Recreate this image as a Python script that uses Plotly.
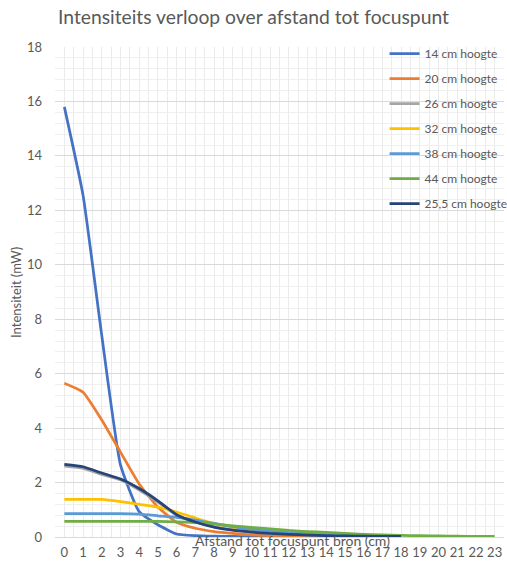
import plotly.graph_objects as go

# Distance to focal point (cm), one category per centimetre
afstand = list(range(24))
tick_labels = [str(v) for v in afstand]

# Measured intensity (mW) per source height
namen = ["14 cm hoogte", "20 cm hoogte", "26 cm hoogte", "32 cm hoogte",
         "38 cm hoogte", "44 cm hoogte", "25,5 cm hoogte"]
h14 = [15.8, 12.55, 7.4, 2.65, 0.93, 0.45, 0.11, 0.05, 0.03, 0.02, 0.01, 0.01, 0.0]
h20 = [5.65, 5.32, 4.3, 3.12, 1.95, 1.1, 0.54, 0.32, 0.2, 0.13, 0.08, 0.05, 0.03,
       0.02, 0.01, 0.01]
h26 = [2.6, 2.52, 2.3, 2.1, 1.72, 1.28, 0.8, 0.55, 0.37, 0.26, 0.18, 0.13, 0.1,
       0.07, 0.05, 0.04, 0.03, 0.02, 0.02]
h32 = [1.38, 1.38, 1.38, 1.3, 1.2, 1.1, 0.92, 0.7, 0.5, 0.36, 0.26, 0.2, 0.15,
       0.11, 0.08, 0.06, 0.05, 0.04, 0.03]
h38 = [0.86, 0.86, 0.86, 0.86, 0.84, 0.78, 0.72, 0.62, 0.5, 0.38, 0.28, 0.21, 0.16,
       0.12, 0.09, 0.07, 0.05, 0.04, 0.03]
h44 = [0.57, 0.57, 0.57, 0.57, 0.57, 0.57, 0.56, 0.53, 0.48, 0.41, 0.35, 0.3, 0.24,
       0.2, 0.17, 0.13, 0.1, 0.08, 0.06, 0.05, 0.04, 0.03, 0.02, 0.02]
h255 = [2.67, 2.58, 2.35, 2.13, 1.78, 1.33, 0.82, 0.55, 0.36, 0.25, 0.18, 0.13, 0.1,
        0.07, 0.05, 0.04, 0.03, 0.02, 0.02]
reeksen = [h14, h20, h26, h32, h38, h44, h255]
kleuren = ["#4472C4", "#ED7D31", "#A5A5A5", "#FFC000", "#5B9BD5", "#70AD47", "#264478"]

FONT = "Lato"
GREY = "#595959"

fig = go.Figure()
for naam, waarden, kleur in zip(namen, reeksen, kleuren):
    fig.add_trace(go.Scatter(
        x=afstand[:len(waarden)], y=waarden, name=naam, mode="lines",
        legendgroup=naam,
        line=dict(color=kleur, width=2.75, shape="spline", smoothing=0.45),
        hoverinfo="skip",
    ))

fig.update_layout(
    width=507, height=563,
    margin=dict(l=55, r=3, t=47, b=26, autoexpand=False),
    paper_bgcolor="white", plot_bgcolor="white",
    font=dict(family=FONT, color=GREY, size=12),
    title=dict(text="Intensiteits verloop over afstand tot focuspunt",
               x=0.5, xanchor="center", y=1 - 17 / 563, yanchor="middle",
               font=dict(family=FONT, size=19.3, color=GREY)),
    showlegend=True,
    legend=dict(x=0.734, y=1.016, xanchor="left", yanchor="top",
                bgcolor="rgba(0,0,0,0)", traceorder="grouped",
                tracegroupgap=6, itemwidth=30,
                font=dict(family=FONT, size=12, color=GREY)),
)

fig.update_xaxes(
    range=[-0.5, 23.5], tickmode="array", tickvals=afstand, ticktext=tick_labels,
    showgrid=True, gridcolor="#ebebeb", gridwidth=1,
    minor=dict(tick0=0.5, dtick=1, showgrid=True, gridcolor="#ebebeb", gridwidth=1),
    zeroline=False, showline=False, ticks="", ticklabelstandoff=6,
    tickfont=dict(family=FONT, size=13, color=GREY),
    fixedrange=True,
)
fig.update_yaxes(
    range=[0, 18], dtick=2, tick0=0,
    showgrid=True, gridcolor="#d9d9d9", gridwidth=1,
    minor=dict(dtick=0.4, tick0=0, showgrid=True, gridcolor="#efefef", gridwidth=1),
    zeroline=True, zerolinecolor="#d9d9d9", zerolinewidth=1,
    showline=False, ticks="", ticklabelstandoff=12,
    tickfont=dict(family=FONT, size=13, color=GREY),
    fixedrange=True,
)

# Axis titles
fig.add_annotation(text="Afstand tot focuspunt bron (cm)", xref="paper", yref="paper",
                   x=0.53, y=-0.008, xanchor="center", yanchor="middle",
                   showarrow=False, font=dict(family=FONT, size=14, color=GREY))
fig.add_annotation(text="Intensiteit (mW)", xref="paper", yref="paper",
                   x=-0.087, y=0.5, xanchor="center", yanchor="middle", textangle=-90,
                   showarrow=False, font=dict(family=FONT, size=13, color=GREY))

fig.write_html("out.html")
